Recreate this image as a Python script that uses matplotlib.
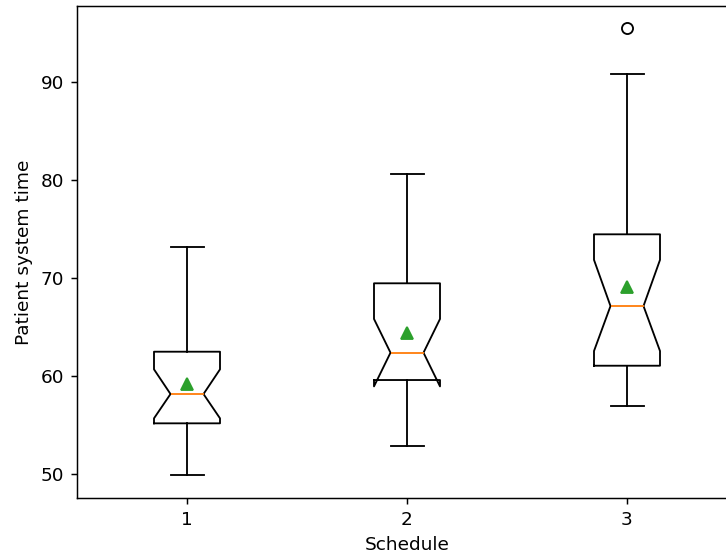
import matplotlib
matplotlib.use("Agg")
import matplotlib.pyplot as plt

schedules = ["1", "2", "3"]
medians = [58.16, 62.38, 67.14]
q1 = [55.17, 59.59, 61.05]
q3 = [62.48, 69.46, 74.46]
whis_lo = [49.90, 52.86, 56.94]
whis_hi = [73.13, 80.58, 90.78]
means = [59.18, 64.42, 69.11]
ci_lo = [55.68, 58.94, 62.55]
ci_hi = [60.68, 65.82, 71.85]
fliers = [[], [], [95.5]]

stats = []
for i, lab in enumerate(schedules):
    stats.append(dict(label=lab, med=medians[i], q1=q1[i], q3=q3[i],
                      whislo=whis_lo[i], whishi=whis_hi[i], mean=means[i],
                      cilo=ci_lo[i], cihi=ci_hi[i], fliers=fliers[i]))

DPI = 133
W, H = 726, 556
fig = plt.figure(figsize=(W / DPI, H / DPI), dpi=DPI)
ax = fig.add_axes([77 / W, (H - 498) / H, (737 - 77) / W, (498 - 6) / H])
ax.bxp(stats, shownotches=True, showmeans=True)
ax.set_ylim(47.55, 97.76)
ax.set_xlim(0.5, 3.5)
ax.set_xlabel("Schedule")
ax.set_ylabel("Patient system time")
fig.savefig("out.png", dpi=DPI)
